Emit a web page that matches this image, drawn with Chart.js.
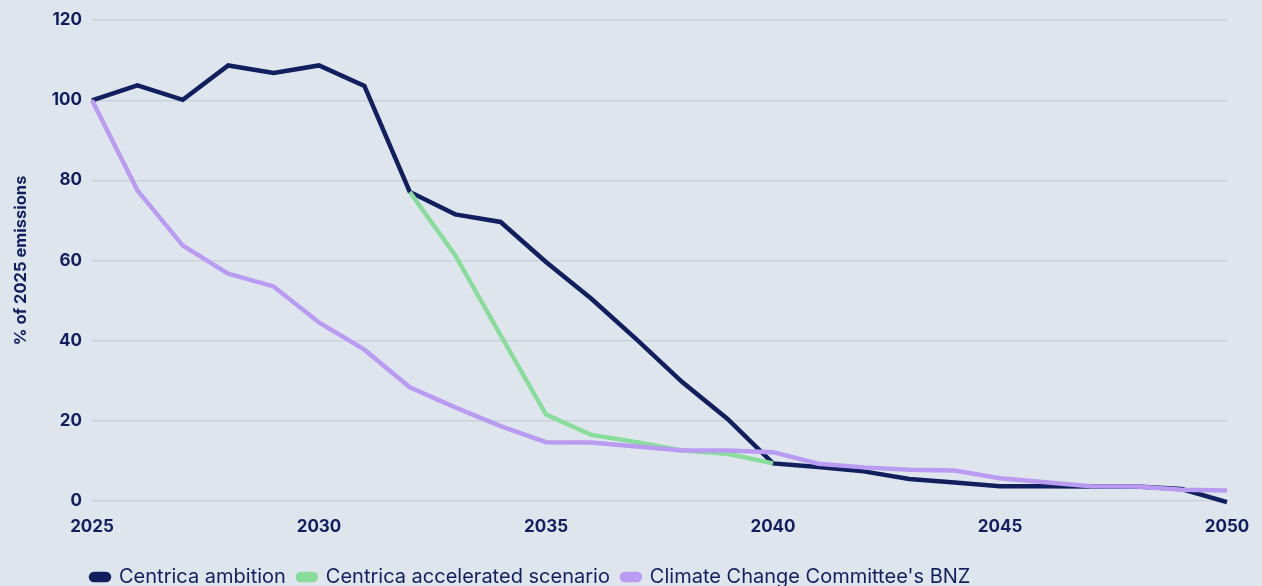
<!DOCTYPE html>
<html>
<head>
<meta charset="utf-8">
<script src="https://cdn.jsdelivr.net/npm/chart.js@4.4.1/dist/chart.umd.min.js"></script>
<style>
  html, body { margin: 0; padding: 0; background: #dfe5ec; }
  #wrap { width: 1262px; height: 586px; }
</style>
</head>
<body>
<div id="wrap"><canvas id="emissionsChart"></canvas></div>
<script>
// Years on the x axis (one point per year)
const years = [
  '2025','2026','2027','2028','2029','2030','2031','2032','2033','2034',
  '2035','2036','2037','2038','2039','2040','2041','2042','2043','2044',
  '2045','2046','2047','2048','2049','2050'
];

// % of 2025 emissions
const centricaAmbition = [
  100, 103.7, 100.1, 108.7, 106.8, 108.7, 103.6, 77.1, 71.5, 69.6,
  59.6, 50.4, 40.2, 29.6, 20.4, 9.3, 8.4, 7.3, 5.4, 4.5,
  3.6, 3.6, 3.5, 3.5, 2.9, -0.4
];

const acceleratedScenario = [
  null, null, null, null, null, null, null, 77.1, 61.3, 41.3,
  21.5, 16.4, 14.6, 12.5, 11.7, 9.3, null, null, null, null,
  null, null, null, null, null, null
];

const ccBalancedPathway = [
  100, 77.5, 63.7, 56.7, 53.5, 44.5, 37.7, 28.3, 23.3, 18.6,
  14.6, 14.5, 13.5, 12.5, 12.5, 12.1, 9.2, 8.3, 7.7, 7.5,
  5.6, 4.6, 3.6, 3.5, 2.7, 2.5
];

const yTicks = { min: 0, max: 120, step: 20 };

const NAVY   = '#121f5f';
const GREEN  = '#88dc9c';
const PURPLE = '#b99cf2';
const GRID   = '#c9d1d9';
const FONT   = 'Inter, "Noto Sans", sans-serif';

function lineSet(label, data, color, order) {
  return {
    label,
    data,
    order,
    borderColor: color,
    backgroundColor: color,
    borderWidth: 4.5,
    pointRadius: 0,
    tension: 0,
    clip: false,
    spanGaps: false
  };
}

// nudge the legend so it lines up with the left of the plot
const legendShift = {
  id: 'legendShift',
  afterLayout(chart) {
    chart.legend.left -= 13;
    chart.legend.right -= 13;
  }
};

new Chart(document.getElementById('emissionsChart'), {
  type: 'line',
  data: {
    labels: years,
    datasets: [
      lineSet('Centrica ambition', centricaAmbition, NAVY, 3),
      lineSet('Centrica accelerated scenario', acceleratedScenario, GREEN, 2),
      lineSet("Climate Change Committee's BNZ", ccBalancedPathway, PURPLE, 1)
    ]
  },
  plugins: [legendShift],
  options: {
    responsive: true,
    maintainAspectRatio: false,
    animation: false,
    layout: { padding: { top: 20, right: 35, bottom: -11, left: 0 } },
    plugins: {
      tooltip: { enabled: false },
      legend: {
        position: 'bottom',
        align: 'start',
        fullSize: false,
        labels: {
          color: NAVY,
          font: { family: FONT, size: 20, weight: '400' },
          boxWidth: 18,
          boxHeight: 6,
          useBorderRadius: true,
          borderRadius: 3,
          padding: 12,
          sort: (a, b) => a.datasetIndex - b.datasetIndex
        }
      }
    },
    scales: {
      x: {
        afterFit: s => { s.height += 2; s.paddingRight = 0; },
        grid: { display: false, drawTicks: false },
        border: { display: false },
        ticks: {
          autoSkip: false,
          maxRotation: 0,
          padding: 16,
          color: NAVY,
          font: { family: FONT, size: 17, weight: '700' },
          callback: function (v, i) {
            const y = years[i];
            return (+y % 5 === 0) ? y : '';
          }
        }
      },
      y: {
        min: yTicks.min,
        max: yTicks.max,
        afterFit: s => { s.width = 92; },
        grid: { color: GRID, lineWidth: 1.5, drawTicks: false },
        border: { display: false },
        ticks: {
          stepSize: yTicks.step,
          padding: 10,
          color: NAVY,
          font: { family: FONT, size: 17, weight: '700' }
        },
        title: {
          display: true,
          text: '% of 2025 emissions',
          color: NAVY,
          font: { family: FONT, size: 16.5, weight: '700' },
          padding: { top: 11, bottom: 0 }
        }
      }
    }
  }
});
</script>
</body>
</html>
